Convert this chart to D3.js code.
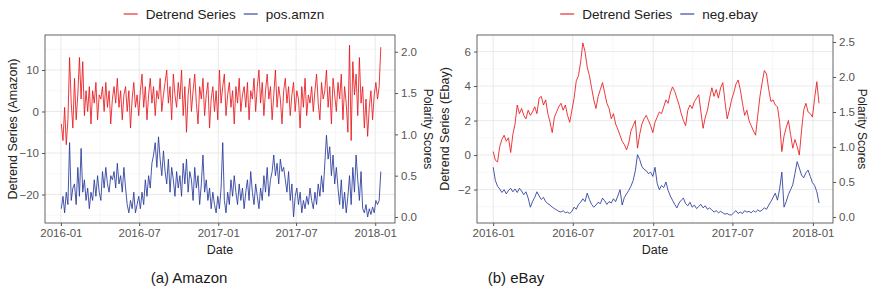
<!DOCTYPE html>
<html>
<head>
<meta charset="utf-8">
<script src="https://cdn.jsdelivr.net/npm/d3@7"></script>
<style>
  body { margin: 0; background: #fff; }
  svg { font-family: "Liberation Sans", Arial, sans-serif; }
</style>
</head>
<body>
<svg id="chart" width="869" height="302"></svg>
<script>
// x axis breaks shared by both panels
let tickDates = ['2016-01', '2016-07', '2017-01', '2017-07', '2018-01'];
let minorDates = ['2016-04', '2016-10', '2017-04', '2017-10'];

// Amazon: detrended series and positive polarity score, Jan 2016 - Jan 2018
let amznStart = '2016-01-02';
let amznEnd = '2018-01-14';
let amznDetrend = [
  -3, -7, 1, -8, -2, 13, 2, -4,
  8, -2, 4, 13, 3, 12, -1, 5,
  0, 6, -3, 5, 2, 7, -2, 4,
  3, 6, 0, 7, 1, 5, -3, 3,
  6, 2, 8, 1, 5, -2, 4, 6,
  0, 5, -4, 3, 7, 1, 4, -1,
  5, 9, 1, 6, -2, 4, 8, 2,
  6, -1, 5, 3, 8, 0, 4, 7,
  10, 2, 6, -2, 9, 4, 1, 7,
  3, 10, -1, 6, -5, 4, 8, 0,
  5, 9, 2, -3, 6, 3, 8, -1,
  4, 7, -4, 3, 6, 0, 5, -2,
  10, 2, 6, 9, -1, 4, 7, 1,
  5, -3, 6, 2, 8, 0, 4, 6,
  1, 7, -2, 5, 3, 8, 0, 6,
  10, 2, 7, -1, 5, 9, 3, 6,
  -2, 4, 10, 1, 6, 3, -3, 5,
  8, 2, 6, -1, 4, 7, 0, 5,
  3, -4, 6, 1, 8, -1, 4, 2,
  6, 0, 5, 9, 2, -2, 7, 3,
  5, 10, 1, 6, -3, 8, 4, 0,
  7, 3, 9, -2, 6, 2, -5, 16,
  -7, 12, 4, 9, -1, 13, 2, 6,
  -4, 3, -6, 1, 5, -2, 4, 7,
  3, 6, 15.5
];
let amznPos = [
  0.1, 0.25, 0.05, 0.3, 0.15, 0.9, 0.2, 0.35,
  0.4, 0.15, 0.6, 0.25, 0.83, 0.3, 0.45, 0.2,
  0.35, 0.1, 0.3, 0.2, 0.45, 0.25, 0.5, 0.3,
  0.2, 0.55, 0.35, 0.6, 0.4, 0.3, 0.5, 0.45,
  0.55, 0.35, 0.65, 0.4, 0.5, 0.3, 0.6, 0.35,
  0.15, 0.05, 0.2, 0.1, 0.3, 0.05, 0.15, 0.25,
  0.1, 0.3, 0.15, 0.45, 0.25, 0.5, 0.35, 0.65,
  0.75, 0.9, 0.6, 0.97, 0.7, 0.5, 0.8, 0.55,
  0.4, 0.7, 0.3, 0.6, 0.45, 0.25, 0.55, 0.35,
  0.5, 0.25, 0.65, 0.4, 0.7, 0.3, 0.55, 0.45,
  0.2, 0.6, 0.35, 0.5, 0.15, 0.4, 0.75, 0.3,
  0.45, 0.2, 0.35, 0.1, 0.3, 0.15, 0.05, 0.25,
  0.1, 0.35, 0.9, 0.2, 0.05, 0.3, 0.15, 0.45,
  0.25, 0.5, 0.3, 0.15, 0.4, 0.2, 0.35, 0.1,
  0.3, 0.45, 0.2, 0.55, 0.3, 0.15, 0.4, 0.25,
  0.1, 0.35, 0.2, 0.5, 0.3, 0.6, 0.25, 0.45,
  0.55, 0.75, 0.5, 0.65, 0.4, 0.7, 0.55, 0.6,
  0.45, 0.3, 0.55, 0.2, 0.4, 0.0, 0.25, 0.35,
  0.15, 0.3, 0.05, 0.2, 0.1, 0.25, 0.15, 0.35,
  0.2, 0.1, 0.3, 0.15, 0.4, 0.25, 0.5, 0.3,
  0.65, 0.99, 0.7, 0.85, 0.5, 0.75, 0.4, 0.6,
  0.35, 0.15, 0.45, 0.1, 0.3, 0.05, 0.25, 0.5,
  0.15, 0.6, 0.3, 0.75, 0.45, 0.2, 0.55, 0.1,
  0.05, 0.15, 0.0, 0.1, 0.03, 0.12, 0.05, 0.2,
  0.15, 0.2, 0.55
];

// eBay: detrended series and negative polarity score
let ebayStart = '2016-01-01';
let ebayEnd = '2018-01-15';
let ebayDetrend = [
  0.2, -0.3, -0.4, 0.5, 0.9, 1.15, 0.8, 1.0, 0.15, 1.2,
  1.8, 2.9, 2.4, 2.7, 2.3, 2.1, 2.6, 2.3, 2.5, 2.8,
  2.4, 3.3, 3.4, 2.9, 3.2, 2.4, 1.9, 1.3, 2.2, 2.5,
  2.8, 3.0, 2.6, 2.9, 2.3, 1.9, 2.6, 3.3, 4.3, 4.6,
  5.4, 6.5, 6.0, 5.1, 4.6, 3.9, 3.2, 2.7, 3.4, 3.8,
  4.2, 3.6, 3.0, 2.7, 2.1, 2.4, 1.8, 1.5, 1.15, 0.8,
  0.6, 0.3, 0.7, 1.4, 1.7, 2.0, 0.4, 1.2, 1.8, 2.1,
  2.3, 2.0, 1.7, 1.3, 1.9, 2.2, 2.5, 2.4, 2.8, 3.2,
  3.0, 3.6, 3.95, 3.7, 3.3, 2.9, 2.4, 2.0, 1.7, 2.6,
  2.9, 2.7, 3.1, 3.3, 3.5, 2.5, 1.55, 2.2, 2.6, 3.3,
  3.9, 3.4, 3.8, 3.3, 3.9, 4.2, 3.1, 2.1, 2.6, 3.2,
  3.6, 4.1, 4.35, 3.8, 3.0, 2.3, 2.6, 2.0, 1.7, 1.4,
  1.15, 2.3, 3.4, 4.2, 4.9, 4.7, 3.8, 3.1, 3.2, 2.9,
  2.8, 1.9, 0.2, 1.1, 1.6, 2.0, 1.2, 0.4, 0.9, 0.5,
  0.0, 1.4, 2.6, 3.0, 2.5, 2.4, 2.2, 3.3, 4.25, 3.0
];
let ebayNeg = [
  0.71, 0.52, 0.44, 0.40, 0.35, 0.39, 0.33, 0.38, 0.41, 0.36,
  0.40, 0.35, 0.41, 0.37, 0.32, 0.36, 0.27, 0.14, 0.22, 0.28,
  0.36, 0.30, 0.25, 0.28, 0.22, 0.19, 0.17, 0.14, 0.12, 0.10,
  0.08, 0.07, 0.09, 0.06, 0.07, 0.05, 0.08, 0.14, 0.11, 0.18,
  0.21, 0.26, 0.22, 0.34, 0.25, 0.18, 0.14, 0.17, 0.21, 0.19,
  0.27, 0.23, 0.18, 0.22, 0.20, 0.26, 0.22, 0.30, 0.39, 0.17,
  0.28, 0.33, 0.38, 0.44, 0.52, 0.66, 0.89, 0.82, 0.72, 0.68,
  0.66, 0.62, 0.64, 0.58, 0.71, 0.48, 0.39, 0.45, 0.42, 0.50,
  0.38, 0.30, 0.24, 0.18, 0.13, 0.20, 0.24, 0.27, 0.19, 0.16,
  0.21, 0.14, 0.17, 0.12, 0.15, 0.18, 0.13, 0.16, 0.11, 0.13,
  0.10, 0.07, 0.09, 0.06, 0.08, 0.06, 0.04, 0.05, 0.03, 0.03,
  0.06, 0.09, 0.05, 0.07, 0.05, 0.09, 0.07, 0.08, 0.06, 0.09,
  0.07, 0.10, 0.08, 0.10, 0.13, 0.11, 0.17, 0.22, 0.28, 0.34,
  0.24, 0.40, 0.64, 0.14, 0.22, 0.32, 0.39, 0.46, 0.62, 0.79,
  0.70, 0.60, 0.56, 0.63, 0.67, 0.58, 0.49, 0.45, 0.36, 0.20
];

let amznLeftTicks = [-20, -10, 0, 10];
let amznLeftMinor = [-25, -15, -5, 5, 15];
let amznRightTicks = [0, 0.5, 1, 1.5, 2];
let ebayLeftTicks = [-2, 0, 2, 4, 6];
let ebayLeftMinor = [-3, -1, 1, 3, 5];
let ebayRightTicks = [0, 0.5, 1, 1.5, 2, 2.5];

let redColor = '#e8161b';
let blueColor = '#27399a';
let parseDay = d3.utcParse('%Y-%m-%d');
let parseMonth = d3.utcParse('%Y-%m');

/**
 * Pair each value with a date, evenly spread from @start to @end
 * (the source series are daily-ish observations).
 */
function withDates(values, start, end) {
  let t0 = parseDay(start).getTime();
  let t1 = parseDay(end).getTime();
  let step = (t1 - t0) / (values.length - 1);
  return values.map((v, i) => ({date: new Date(t0 + i * step), value: v}));
}

let svg = d3.select('#chart');
svg.append('rect').attr('width', 869).attr('height', 302).attr('fill', '#fff');

/**
 * Draw one dual-axis panel: legend on top, plot box, both y axes, date axis.
 */
function drawPanel(spec) {
  let g = svg.append('g');
  let top = 35, bottom = 223;
  let x = d3.scaleUtc()
      .domain([parseDay('2015-11-25'), parseDay('2018-02-16')])
      .range([spec.left, spec.right]);
  let yL = d3.scaleLinear().domain(spec.leftDomain).range([bottom, top]);
  let yR = d3.scaleLinear().domain(spec.rightDomain).range([bottom, top]);

  // minor grid
  g.append('g').selectAll('line.minorX')
      .data(minorDates.map(parseMonth))
      .join('line')
      .attr('x1', d => x(d)).attr('x2', d => x(d))
      .attr('y1', top).attr('y2', bottom)
      .attr('stroke', '#f2f2f2').attr('stroke-width', 0.6);
  g.append('g').selectAll('line.minorY')
      .data(spec.leftMinor)
      .join('line')
      .attr('x1', spec.left).attr('x2', spec.right)
      .attr('y1', d => yL(d)).attr('y2', d => yL(d))
      .attr('stroke', '#f2f2f2').attr('stroke-width', 0.6);
  // major grid
  g.append('g').selectAll('line')
      .data(tickDates.map(parseMonth))
      .join('line')
      .attr('x1', d => x(d)).attr('x2', d => x(d))
      .attr('y1', top).attr('y2', bottom)
      .attr('stroke', '#e4e4e4').attr('stroke-width', 0.8);
  g.append('g').selectAll('line')
      .data(spec.leftTicks)
      .join('line')
      .attr('x1', spec.left).attr('x2', spec.right)
      .attr('y1', d => yL(d)).attr('y2', d => yL(d))
      .attr('stroke', '#e4e4e4').attr('stroke-width', 0.8);

  // series
  let redLine = d3.line().x(d => x(d.date)).y(d => yL(d.value));
  let blueLine = d3.line().x(d => x(d.date)).y(d => yR(d.value));
  g.append('path')
      .datum(withDates(spec.red, spec.start, spec.end))
      .attr('d', redLine)
      .attr('fill', 'none').attr('stroke', redColor).attr('stroke-width', 0.85);
  g.append('path')
      .datum(withDates(spec.blue, spec.start, spec.end))
      .attr('d', blueLine)
      .attr('fill', 'none').attr('stroke', blueColor).attr('stroke-width', 0.85);

  // panel border
  g.append('rect')
      .attr('x', spec.left).attr('y', top)
      .attr('width', spec.right - spec.left).attr('height', bottom - top)
      .attr('fill', 'none').attr('stroke', '#555').attr('stroke-width', 0.9);

  let styleAxis = sel => {
    sel.select('.domain').remove();
    sel.selectAll('line').attr('stroke', '#555');
    sel.selectAll('text').attr('fill', '#555').style('font-size', '11.5px')
        .attr('font-family', null);
  };
  g.append('g')
      .attr('transform', `translate(${spec.left},0)`)
      .call(d3.axisLeft(yL).tickValues(spec.leftTicks).tickSize(3).tickPadding(3))
      .call(styleAxis);
  g.append('g')
      .attr('transform', `translate(${spec.right},0)`)
      .call(d3.axisRight(yR).tickValues(spec.rightTicks).tickSize(3).tickPadding(3)
          .tickFormat(d3.format('.1f')))
      .call(styleAxis);
  g.append('g')
      .attr('transform', `translate(0,${bottom})`)
      .call(d3.axisBottom(x).tickValues(tickDates.map(parseMonth)).tickSize(3)
          .tickPadding(3).tickFormat(d3.utcFormat('%Y-%m')))
      .call(styleAxis);

  // axis titles
  let mid = (top + bottom) / 2;
  g.append('text')
      .attr('transform', `translate(${spec.left - 31},${mid}) rotate(-90)`)
      .attr('text-anchor', 'middle').attr('dominant-baseline', 'middle')
      .style('font-size', '12.5px').attr('fill', '#222')
      .text(spec.leftTitle);
  g.append('text')
      .attr('transform', `translate(${spec.right + spec.rightTitleGap},${mid}) rotate(90)`)
      .attr('text-anchor', 'middle').attr('dominant-baseline', 'middle')
      .style('font-size', '12px').attr('fill', '#222')
      .text('Polarity Scores');
  g.append('text')
      .attr('x', (spec.left + spec.right) / 2).attr('y', 254)
      .attr('text-anchor', 'middle')
      .style('font-size', '12.5px').attr('fill', '#222')
      .text('Date');

  // legend
  let legend = g.append('g');
  let items = [{label: 'Detrend Series', color: redColor},
               {label: spec.blueName, color: blueColor}];
  let cursor = 0;
  items.forEach(item => {
    legend.append('line')
        .attr('x1', cursor).attr('x2', cursor + 14)
        .attr('y1', 14).attr('y2', 14)
        .attr('stroke', item.color).attr('stroke-width', 1.1);
    let t = legend.append('text')
        .attr('x', cursor + 22).attr('y', 14)
        .attr('dominant-baseline', 'central')
        .style('font-size', '13.5px').attr('fill', '#222')
        .text(item.label);
    cursor += 22 + t.node().getComputedTextLength() + 8;
  });
  let legendWidth = cursor - 8;
  legend.attr('transform',
      `translate(${(spec.left + spec.right) / 2 + 4 - legendWidth / 2},0)`);

  // caption
  svg.append('text')
      .attr('x', spec.captionX).attr('y', 283)
      .attr('text-anchor', 'middle')
      .style('font-size', '15px').attr('fill', '#1a1a1a')
      .text(spec.caption);
}

drawPanel({
  left: 45, right: 395, rightTitleGap: 32,
  leftDomain: [-26.87, 18.43], rightDomain: [-0.073, 2.203],
  leftTicks: amznLeftTicks, leftMinor: amznLeftMinor, rightTicks: amznRightTicks,
  red: amznDetrend, blue: amznPos, start: amznStart, end: amznEnd,
  leftTitle: 'Detrend Series (Amazon)', blueName: 'pos.amzn',
  caption: '(a) Amazon', captionX: 189
});
drawPanel({
  left: 477, right: 833, rightTitleGap: 28,
  leftDomain: [-3.94, 6.96], rightDomain: [-0.086, 2.6],
  leftTicks: ebayLeftTicks, leftMinor: ebayLeftMinor, rightTicks: ebayRightTicks,
  red: ebayDetrend, blue: ebayNeg, start: ebayStart, end: ebayEnd,
  leftTitle: 'Detrend Series (Ebay)', blueName: 'neg.ebay',
  caption: '(b) eBay', captionX: 516
});
</script>
</body>
</html>
